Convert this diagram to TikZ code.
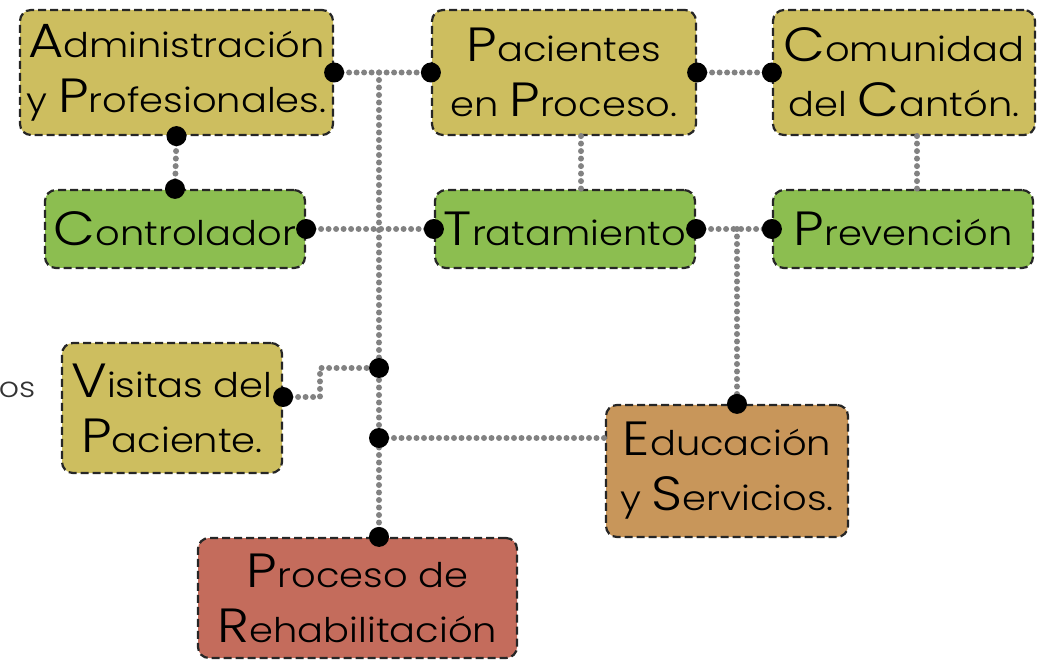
\documentclass[tikz,border=0pt]{standalone}
\usepackage{fontspec}
\setmainfont{Poppins}[UprightFont={* Light}, FakeStretch=1.13]
\newcommand\inic[1]{{\fontsize{48}{48}\selectfont #1}}
\definecolor{boxyel}{RGB}{205,190,95}
\definecolor{boxgrn}{RGB}{140,190,80}
\definecolor{boxbrn}{RGB}{200,150,90}
\definecolor{boxred}{RGB}{196,108,92}
\definecolor{conngray}{RGB}{130,130,130}
\tikzset{
  box/.style={draw=black!85, line width=2.2pt, dash pattern=on 8pt off 4pt,
    rounded corners=11pt, align=center, inner sep=0pt,
    font=\fontsize{34}{55}\selectfont},
  conn/.style={draw=conngray, line width=6pt, dash pattern=on 0pt off 7.5pt, line cap=round},
  knob/.style={fill=black, circle, inner sep=0pt, minimum size=20pt},
}
\begin{document}
\begin{tikzpicture}[x=1pt,y=-1pt]
\useasboundingbox (0,0) rectangle (1037,660);
% boxes
\node[box, fill=boxyel, minimum width=313pt, minimum height=125pt] (adm) at (176.5,72.5) {\inic{A}dministración\\y \inic{P}rofesionales.};
\node[box, fill=boxyel, minimum width=264pt, minimum height=125pt] (pac) at (564,72.5) {\inic{P}acientes\\en \inic{P}roceso.};
\node[box, fill=boxyel, minimum width=262pt, minimum height=125pt] (com) at (904,72.5) {\inic{C}omunidad\\del \inic{C}antón.};
\node[box, fill=boxgrn, minimum width=260pt, minimum height=78pt] (con) at (175,229) {\inic{C}ontrolador};
\node[box, fill=boxgrn, minimum width=260pt, minimum height=78pt] (tra) at (565,229) {\inic{T}ratamiento};
\node[box, fill=boxgrn, minimum width=260pt, minimum height=78pt] (pre) at (903,229) {\inic{P}revención};
\node[box, fill=boxyel, minimum width=220pt, minimum height=130pt] (vis) at (172,408) {\inic{V}isitas del\\\inic{P}aciente.};
\node[box, fill=boxbrn, minimum width=242pt, minimum height=132pt] (edu) at (727,471) {\inic{E}ducación\\y \inic{S}ervicios.};
\node[box, fill=boxred, minimum width=319pt, minimum height=120pt] (pro) at (357.5,598) {\inic{P}roceso de\\\inic{R}ehabilitación};
\node[font=\fontsize{28}{28}\selectfont, text=black!80, inner sep=1pt] (os) at (17,390) {os};
% junction coordinates
\coordinate (j1) at (379,72.5);
\coordinate (j2) at (379,368);
\coordinate (j3) at (379,438);
\coordinate (j4) at (737,229);
\coordinate (vb) at (320,397);
% connectors
\draw[conn] (adm.east) -- (pac.west);
\draw[conn] (pac.east) -- (com.west);
\draw[conn] (adm.south) -- (con.north);
\draw[conn] (pac.south -| 581,0) -- (tra.north -| 581,0);
\draw[conn] (com.south -| 917,0) -- (pre.north -| 917,0);
\draw[conn] (con.east) -- (tra.west);
\draw[conn] (tra.east) -- (pre.west);
\draw[conn] (j4) -- (edu.north -| j4);
\draw[conn] (j1) -- (j1 |- pro.north);
\draw[conn] (vis.east |- vb) -- (vb) -- (vb |- j2) -- (j2);
\draw[conn] (j3) -- (edu.west |- j3);
% knobs
\foreach \p in {adm.east, pac.west, pac.east, com.west, adm.south, con.north, con.east, tra.west, tra.east, pre.west, j2, j3}
  \node[knob] at (\p) {};
\node[knob] at (j1 |- pro.north) {};
\node[knob] at (edu.north -| j4) {};
\node[knob] at (vis.east |- vb) {};
\end{tikzpicture}
\end{document}
